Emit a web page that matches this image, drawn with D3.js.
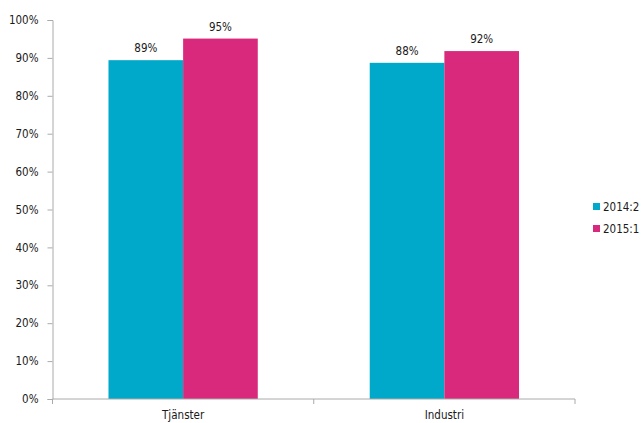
<!DOCTYPE html>
<html><head><meta charset="utf-8">
<script src="https://cdn.jsdelivr.net/npm/d3@7"></script>
<style>body{margin:0;background:#fff}svg{display:block}text{font-family:"DejaVu Sans Condensed","DejaVu Sans",sans-serif;fill:#1a1a1a}</style>
</head><body><svg id="c" width="641" height="423"></svg>
<script>
const categories = ["Tjänster", "Industri"];
const seriesNames = ["2014:2", "2015:1"];
const values2014 = [0.894, 0.887];
const values2015 = [0.951, 0.918];
const labels2014 = ["89%", "88%"];
const labels2015 = ["95%", "92%"];
const yTicks = [0,0.1,0.2,0.3,0.4,0.5,0.6,0.7,0.8,0.9,1.0];
const colors = ["#00a9c9", "#d8297c"];

const svg = d3.select("#c");
const m = {l:52.5, r:66, t:20, b:24};
const W = 641, H = 423;
const x = d3.scaleBand().domain(categories).range([m.l, W - m.r]).paddingInner(0).paddingOuter(0);
const y = d3.scaleLinear().domain([0,1]).range([H - m.b, m.t]);
const sub = d3.scaleBand().domain(seriesNames).range([0, x.bandwidth()]).paddingInner(0).paddingOuter(0.75);

const series = [values2014, values2015];
const lbls = [labels2014, labels2015];

// bars
series.forEach((vals, si) => {
  svg.append("g").selectAll("rect").data(categories).join("rect")
    .attr("x", c => x(c) + sub(seriesNames[si]))
    .attr("width", sub.bandwidth())
    .attr("y", (c,i) => y(vals[i]))
    .attr("height", (c,i) => y(0) - y(vals[i]))
    .attr("fill", colors[si]);
  svg.append("g").selectAll("text").data(categories).join("text")
    .attr("x", c => x(c) + sub(seriesNames[si]) + sub.bandwidth()/2)
    .attr("y", (c,i) => y(vals[i]) - 8)
    .attr("text-anchor","middle").attr("font-size", 11.5)
    .text((c,i) => lbls[si][i]);
});

// y axis
const ya = svg.append("g").attr("transform", `translate(${m.l},0)`)
  .call(d3.axisLeft(y).tickValues(yTicks).tickFormat(d3.format(".0%")).tickSize(5).tickPadding(9));
ya.select(".domain").attr("stroke","#aaa");
ya.selectAll(".tick line").attr("stroke","#aaa");
ya.selectAll(".tick text").attr("font-size", 11.5).attr("fill","#1a1a1a").attr("font-family","DejaVu Sans Condensed");

// x axis
const xa = svg.append("g").attr("transform", `translate(0,${y(0)})`);
xa.append("line").attr("x1", m.l).attr("x2", W - m.r).attr("stroke","#aaa");
const bounds = [m.l].concat(categories.map(c => x(c) + x.bandwidth()));
xa.selectAll(".tk").data(bounds).join("line").attr("class","tk")
  .attr("x1", d=>d).attr("x2", d=>d).attr("y1",0).attr("y2",5).attr("stroke","#aaa");
xa.selectAll(".lb").data(categories).join("text").attr("class","lb")
  .attr("x", c => x(c) + x.bandwidth()/2).attr("y", 20)
  .attr("text-anchor","middle").attr("font-size", 11.5).text(c => c);

// legend
const lg = svg.append("g").attr("transform","translate(593,203)");
seriesNames.forEach((s,i) => {
  lg.append("rect").attr("x",0).attr("y", i*22).attr("width",7).attr("height",7).attr("fill",colors[i]);
  lg.append("text").attr("x",10).attr("y", i*22 + 8).attr("font-size",11.5).text(s);
});
</script></body></html>
